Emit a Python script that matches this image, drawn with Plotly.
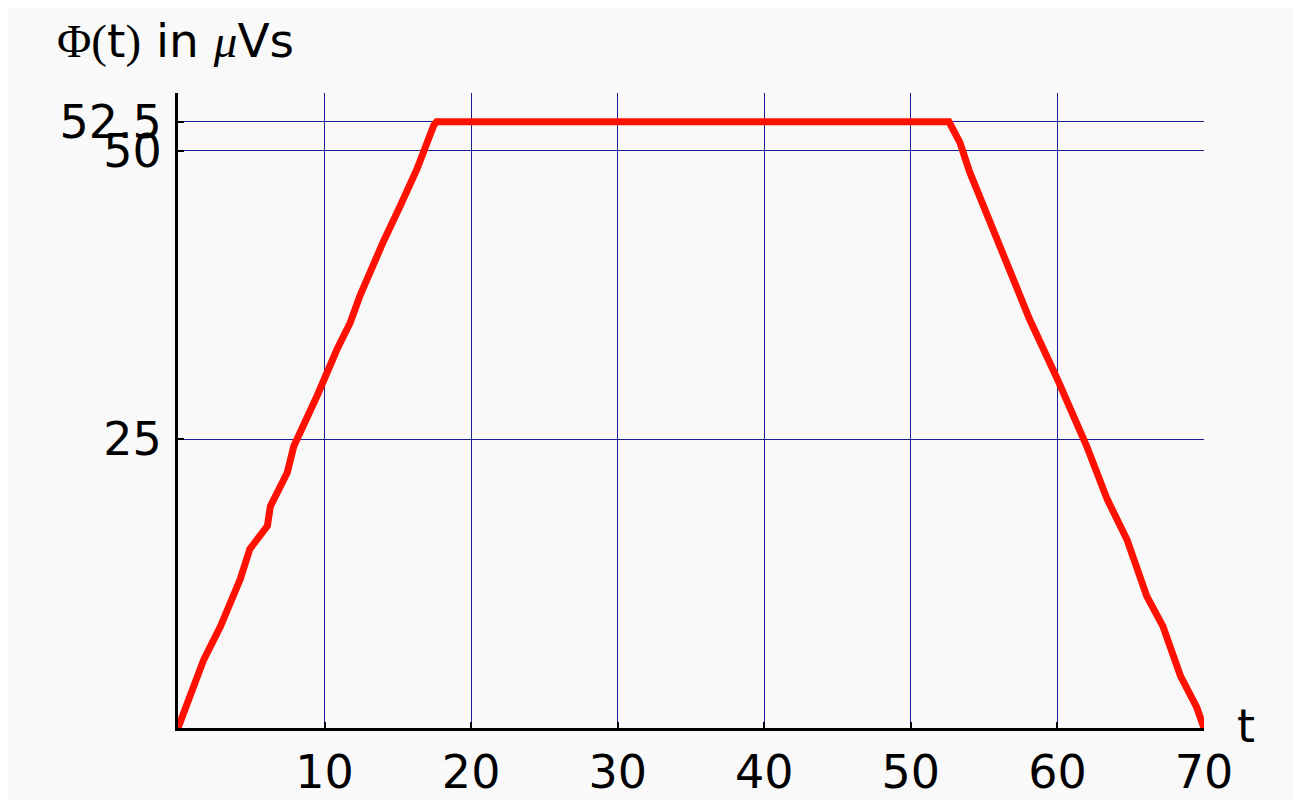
import plotly.graph_objects as go

# Rising flank
t_rise = [0, 1.75, 2.9, 4.25, 4.9, 6.1, 6.3, 7.45, 7.9, 8.35, 9.5, 10.85, 11.75,
          12.4, 13.35, 14.0, 15.15, 16.3, 17.45, 17.65]
phi_rise = [0, 5.9, 8.8, 12.9, 15.5, 17.5, 19.2, 22.1, 24.4, 25.6, 28.8, 32.8, 35.1,
            37.4, 40.3, 42.1, 45.2, 48.4, 52.2, 52.5]
# Falling flank
t_fall = [52.6, 53.35, 54.0, 55.4, 56.75, 58.1, 60.0, 61.3, 62.0, 63.4, 64.75,
          66.1, 67.2, 68.4, 68.7, 69.5, 70]
phi_fall = [52.5, 50.7, 48.2, 43.8, 39.8, 35.4, 30.2, 26.5, 24.4, 19.8, 16.3,
            11.4, 8.8, 4.5, 3.7, 1.8, 0]

t = t_rise + t_fall
phi = phi_rise + phi_fall

x_ticks = [10, 20, 30, 40, 50, 60, 70]
y_ticks = [25, 50, 52.5]
y_ticktext = ["25", "50", "52.5"]

fig = go.Figure()
fig.add_trace(go.Scatter(x=t, y=phi, mode="lines",
                         line=dict(color="#ff1000", width=7),
                         showlegend=False, hoverinfo="skip"))

fig.update_layout(
    width=1301, height=800,
    paper_bgcolor="white", plot_bgcolor="#f9f9f9",
    margin=dict(l=170, r=105, t=85, b=80),
    font=dict(family="DejaVu Sans", size=46, color="black"),
    shapes=[dict(type="rect", xref="paper", yref="paper",
                 x0=-0.2, x1=1.2, y0=-0.2, y1=1.2,
                 fillcolor="#f9f9f9", line=dict(width=0), layer="below")],
    annotations=[
        dict(xref="paper", yref="paper", x=-0.12, y=1.083, xanchor="left", yanchor="middle",
             showarrow=False, font=dict(size=47, family="DejaVu Sans"),
             text='<span style="font-family:Liberation Serif">Φ(</span>t<span style="font-family:Liberation Serif">)</span> in <span style="font-family:Liberation Serif"><i>μ</i></span>Vs'),
        dict(xref="paper", yref="paper", x=1.041, y=0.003, xanchor="center", yanchor="middle",
             showarrow=False, font=dict(size=46, family="DejaVu Sans"), text="t"),
    ],
)
fig.update_xaxes(range=[0, 70], tickvals=x_ticks, ticktext=[str(v) for v in x_ticks],
                 showgrid=True, gridcolor="#1c1c96", gridwidth=1,
                 showline=True, linecolor="black", linewidth=3,
                 ticks="inside", ticklen=6, tickwidth=2, tickcolor="black",
                 zeroline=False, ticklabelstandoff=2, automargin=False)
fig.update_yaxes(range=[0, 55], tickvals=y_ticks, ticktext=y_ticktext,
                 showgrid=True, gridcolor="#1c1c96", gridwidth=1,
                 showline=True, linecolor="black", linewidth=3,
                 ticks="inside", ticklen=6, tickwidth=2, tickcolor="black",
                 zeroline=False, ticklabelstandoff=4, automargin=False)

fig.write_html("out.html")
